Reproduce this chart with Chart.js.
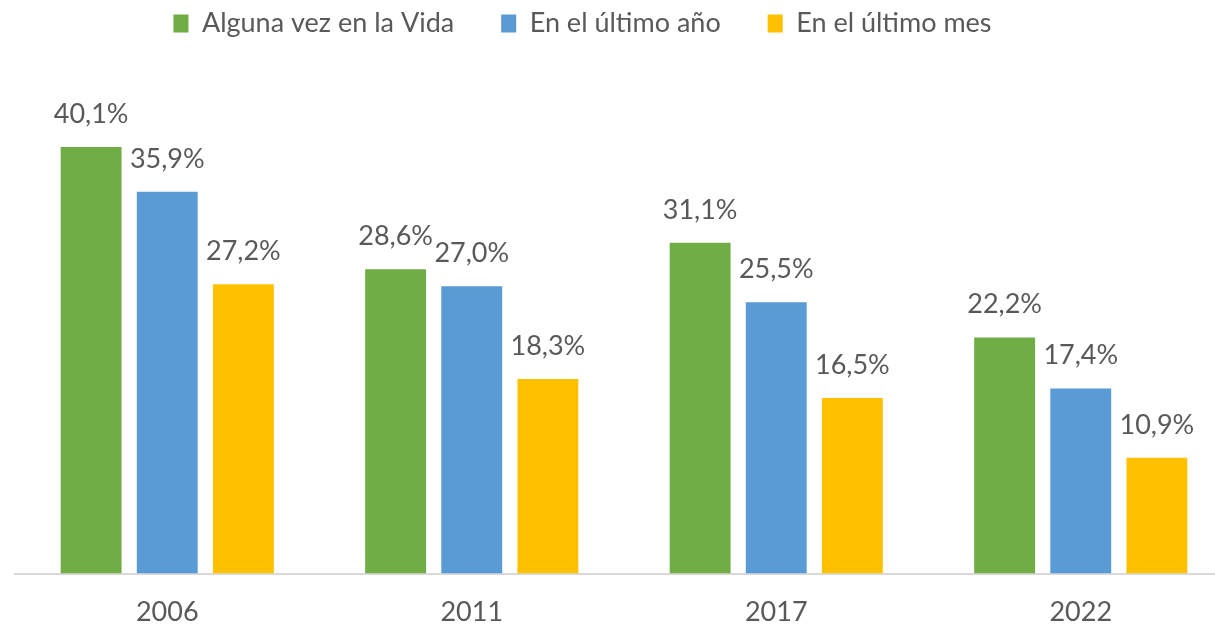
<!DOCTYPE html>
<html lang="es">
<head>
<meta charset="utf-8">
<title>Prevalencia</title>
<script src="https://cdn.jsdelivr.net/npm/chart.js@4.4.1/dist/chart.umd.min.js"></script>
<style>
  html, body { margin: 0; padding: 0; background: #fff; }
  #wrap { position: relative; width: 1215px; height: 626px; overflow: hidden; }
  /* canvas is a bit bigger than the window so the plot can run off the right edge like the original */
  #chart { position: absolute; left: -68px; top: -37px; }
</style>
</head>
<body>
<div id="wrap"><canvas id="chart" width="1301" height="687"></canvas></div>
<script>
const years = ['2006', '2011', '2017', '2022'];
const seriesNames = ['Alguna vez en la Vida', 'En el último año', 'En el último mes'];
const alguna = [40.1, 28.6, 31.1, 22.2];
const ultimoAnio = [35.9, 27.0, 25.5, 17.4];
const ultimoMes = [27.2, 18.3, 16.5, 10.9];
const colors = ['#70AD47', '#5B9BD5', '#FFC000'];

const textColor = '#595959';
Chart.defaults.font.family = 'Lato, "Open Sans", sans-serif';
Chart.defaults.font.size = 27;
Chart.defaults.color = textColor;

// value labels over each bar, with comma decimals
const barLabels = {
    id: 'barLabels',
    afterDatasetsDraw(chart) {
        const ctx = chart.ctx;
        ctx.save();
        ctx.font = '27px Lato, "Open Sans", sans-serif';
        ctx.fillStyle = textColor;
        ctx.textAlign = 'center';
        ctx.textBaseline = 'alphabetic';
        chart.data.datasets.forEach((ds, i) => {
            chart.getDatasetMeta(i).data.forEach((bar, j) => {
                const txt = ds.data[j].toFixed(1).replace('.', ',') + '%';
                ctx.fillText(txt, bar.x, bar.y - 24);
            });
        });
        ctx.restore();
    }
};

const series = [alguna, ultimoAnio, ultimoMes];

new Chart(document.getElementById('chart'), {
    type: 'bar',
    data: {
        labels: years,
        datasets: series.map((vals, i) => ({
            label: seriesNames[i],
            data: vals,
            backgroundColor: colors[i],
            borderWidth: 0,
            categoryPercentage: 0.75,
            barPercentage: 0.8
        }))
    },
    options: {
        responsive: false,
        animation: false,
        layout: { padding: 0 },
        plugins: {
            tooltip: { enabled: false },
            legend: {
                position: 'top',
                align: 'center',
                labels: {
                    boxWidth: 15,
                    boxHeight: 18,
                    padding: 47,
                    color: textColor,
                    font: { size: 27 }
                }
            }
        },
        scales: {
            x: {
                grid: { display: false, drawTicks: false },
                border: { display: true, color: '#D9D9D9', width: 2 },
                ticks: { padding: 22, color: textColor, font: { size: 27 } }
            },
            y: {
                min: 0,
                max: 49.5,
                grid: { display: false, drawTicks: false },
                border: { display: false },
                ticks: { display: false },
                afterFit(scale) { scale.width = 83; }
            }
        }
    },
    plugins: [barLabels]
});
</script>
</body>
</html>
